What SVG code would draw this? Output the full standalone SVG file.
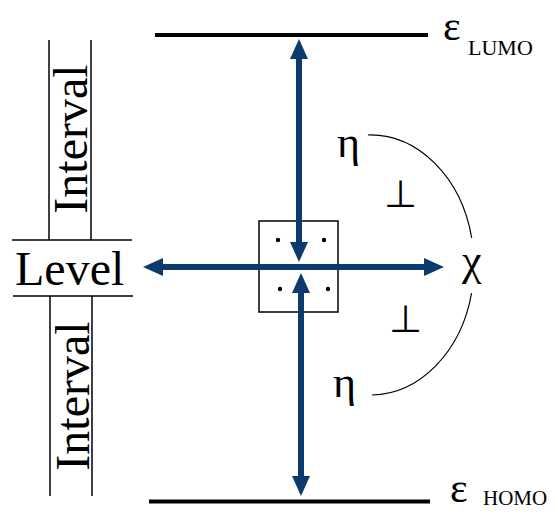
<svg xmlns="http://www.w3.org/2000/svg" width="558" height="521" viewBox="0 0 558 521">
<style>
.t{font-family:"Liberation Serif","DejaVu Serif",serif;fill:#000}
.thin{stroke:#000;stroke-width:1.5;fill:none}
.lev{stroke:#000;stroke-width:4}
.arr{stroke:#0b3a6c;stroke-width:6;fill:none;marker-start:url(#ah);marker-end:url(#ah)}
.perp{font-family:"DejaVu Sans",sans-serif;font-weight:200;font-size:38px;fill:#000;text-anchor:middle}
</style>
<defs>
<marker id="ah" markerUnits="userSpaceOnUse" viewBox="0 0 20 18" markerWidth="20" markerHeight="18" refX="1" refY="9" orient="auto-start-reverse">
<path d="M0,0 L20,9 L0,18 z" fill="#0b3a6c"/>
</marker>
</defs>
<rect width="558" height="521" fill="#fff"/>
<g id="lumo">
<line class="lev" x1="155" y1="35" x2="428" y2="35"/>
<text class="t" x="443" y="40" font-size="42">ε</text>
<text class="t" x="468" y="55" font-size="22">LUMO</text>
</g>
<g id="homo">
<line class="lev" x1="149" y1="501.5" x2="430" y2="501.5"/>
<text class="t" x="450" y="502" font-size="42">ε</text>
<text class="t" x="483" y="505" font-size="21">HOMO</text>
</g>
<g id="scale">
<line class="thin" x1="49" y1="40" x2="49" y2="240"/>
<line class="thin" x1="91" y1="40" x2="91" y2="240"/>
<line class="thin" x1="12" y1="240" x2="132" y2="240"/>
<line class="thin" x1="13" y1="296" x2="133" y2="296"/>
<line class="thin" x1="50" y1="296" x2="50" y2="496"/>
<line class="thin" x1="92" y1="296" x2="92" y2="496"/>
<text class="t" x="15" y="285" font-size="48">Level</text>
<text class="t" font-size="48" text-anchor="middle" transform="translate(87,139) rotate(-90)">Interval</text>
<text class="t" font-size="48" text-anchor="middle" transform="translate(89,396) rotate(-90)">Interval</text>
</g>
<g id="center">
<rect class="thin" x="259" y="221" width="79" height="91"/>
<circle cx="278" cy="240" r="2.2"/>
<circle cx="324" cy="240" r="2.2"/>
<circle cx="280" cy="289" r="2.2"/>
<circle cx="328" cy="289" r="2.2"/>
</g>
<g id="connectors">
<line class="arr" x1="299" y1="58" x2="299" y2="243"/>
<line class="arr" x1="301" y1="292" x2="301" y2="477"/>
<line class="arr" x1="162" y1="267" x2="425" y2="267"/>
<path d="M368,135 A104,130 0 0 1 471.7,238 M471.6,293 A104,130 0 0 1 372,395" stroke="#000" stroke-width="1.2" fill="none"/>
</g>
<g id="labels">
<text class="t" x="337" y="157" font-size="44">η</text>
<text class="t" x="333" y="397" font-size="44">η</text>
<text class="t" x="462" y="275" font-size="44">χ</text>
<text class="perp" x="400.5" y="207">⊥</text>
<text class="perp" x="405.5" y="332">⊥</text>
</g>
</svg>
